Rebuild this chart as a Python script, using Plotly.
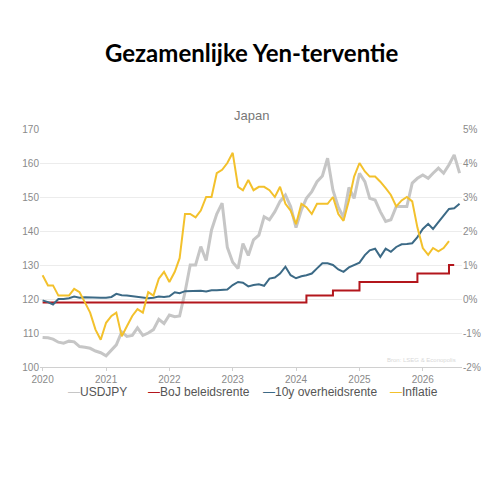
import pandas as pd
import plotly.graph_objects as go

# monthly, starting Jan 2020
months = pd.date_range("2020-01-01", periods=80, freq="MS")

usdjpy = [
    108.7, 108.6, 108.2, 107.3, 107.0, 107.6, 107.4, 106.0, 105.8, 105.5, 104.7, 104.2,
    103.3, 104.9, 106.5, 110.3, 109.0, 109.3, 111.5, 109.3, 110.0, 111.0, 114.0, 112.8,
    115.3, 114.8, 115.0, 122.0, 130.0, 130.0, 135.4, 131.3, 140.3, 145.0, 148.2, 135.2,
    130.8, 129.0, 136.3, 132.8, 137.4, 138.8, 144.2, 143.3, 145.7, 148.7, 150.6, 147.2,
    141.0, 146.2, 149.6, 151.6, 154.5, 156.2, 161.4, 152.0, 147.0, 144.0, 152.8, 149.6,
    157.0, 154.5, 149.6, 149.1, 145.7, 142.8, 143.3, 147.2, 147.2, 147.2, 154.1, 155.5,
    156.5, 155.5, 157.0, 158.5, 157.0, 159.5, 162.4, 157.0,
]

boj_rate = [-0.1] * 50 + [0.1] * 5 + [0.25] * 5 + [0.5] * 11 + [0.75] * 6 + [1.0] * 2

jgb_10y = [
    -0.04, -0.09, -0.16, 0.0, 0.0, 0.02, 0.07, 0.04, 0.05, 0.04, 0.05, 0.04,
    0.04, 0.06, 0.15, 0.11, 0.10, 0.08, 0.05, 0.02, 0.02, 0.04, 0.07, 0.06,
    0.08, 0.20, 0.17, 0.23, 0.24, 0.24, 0.24, 0.22, 0.26, 0.26, 0.27, 0.28,
    0.41, 0.50, 0.48, 0.37, 0.41, 0.43, 0.39, 0.60, 0.63, 0.75, 0.95, 0.70,
    0.61, 0.67, 0.70, 0.75, 0.90, 1.05, 1.05, 1.00, 0.87, 0.80, 0.93, 1.00,
    1.07, 1.29, 1.43, 1.48, 1.24, 1.48, 1.39, 1.53, 1.61, 1.62, 1.64, 1.82,
    2.06, 2.21, 2.06, 2.26, 2.46, 2.65, 2.67, 2.80,
]

inflatie = [
    0.7, 0.4, 0.4, 0.1, 0.1, 0.1, 0.3, 0.2, -0.1, -0.4, -0.9, -1.2,
    -0.7, -0.5, -0.4, -1.1, -0.8, -0.5, -0.3, -0.4, 0.2, 0.1, 0.6, 0.8,
    0.5, 0.8, 1.2, 2.5, 2.5, 2.4, 2.6, 3.0, 3.0, 3.7, 3.8, 4.0,
    4.3, 3.3, 3.2, 3.5, 3.2, 3.3, 3.3, 3.2, 3.0, 3.3, 2.8, 2.6,
    2.2, 2.8, 2.7, 2.5, 2.8, 2.8, 2.8, 3.0, 2.5, 2.3, 2.9, 3.6,
    4.0, 3.75, 3.6, 3.6, 3.45, 3.26, 3.06, 2.72, 2.9, 3.0, 2.87, 2.1,
    1.5, 1.3, 1.5, 1.4, 1.5, 1.7,
]

left_ticks = [100, 110, 120, 130, 140, 150, 160, 170]
right_ticks = [-2, -1, 0, 1, 2, 3, 4, 5]
year_ticks = ["2020", "2021", "2022", "2023", "2024", "2025", "2026"]

series_names = ["USDJPY", "BoJ beleidsrente", "10y overheidsrente", "Inflatie"]
series_colors = ["#c6c6c6", "#b3161c", "#3c6a86", "#f3c12c"]
legend_x = [0.062, 0.25, 0.524, 0.825]

title_font = "Lato, Noto Sans, sans-serif"
base_font = "Liberation Sans, Arial, sans-serif"
tick_font = dict(family=base_font, size=10, color="#8a8a8a")

fig = go.Figure()
fig.add_trace(go.Scatter(x=months[:len(usdjpy)], y=usdjpy, name=series_names[0], mode="lines",
                         line=dict(color=series_colors[0], width=3)))
fig.add_trace(go.Scatter(x=months[:len(boj_rate)], y=boj_rate, name=series_names[1], mode="lines",
                         line=dict(color=series_colors[1], width=2, shape="hv"), yaxis="y2"))
fig.add_trace(go.Scatter(x=months[:len(jgb_10y)], y=jgb_10y, name=series_names[2], mode="lines",
                         line=dict(color=series_colors[2], width=2), yaxis="y2"))
fig.add_trace(go.Scatter(x=months[:len(inflatie)], y=inflatie, name=series_names[3], mode="lines",
                         line=dict(color=series_colors[3], width=2), yaxis="y2"))

annotations = [
    dict(text="<b>Gezamenlijke Yen-terventie</b>", x=0.5, xref="paper", y=1.0, yref="paper",
         yanchor="bottom", yshift=60, showarrow=False,
         font=dict(family=title_font, size=24, color="#000000")),
    dict(text="Japan", x=0.5, xref="paper", y=1.0, yref="paper", yanchor="bottom", yshift=4,
         showarrow=False, font=dict(family=base_font, size=13, color="#777777")),
    dict(text="Bron: LSEG & Econopolis", x=0.99, xref="paper", xanchor="right", y=0.0, yref="paper",
         yanchor="bottom", yshift=2, showarrow=False,
         font=dict(family=base_font, size=6, color="#d8d8d8")),
]
# legend drawn as text with short coloured dashes, like the original
for name, color, lx in zip(series_names, series_colors, legend_x):
    annotations.append(dict(
        text=f'<span style="color:{color}">\u2014</span>{name}',
        x=lx, xref="paper", xanchor="left", y=0.0, yref="paper", yanchor="middle", yshift=-25,
        showarrow=False, font=dict(family=base_font, size=12, color="#555555"),
    ))

fig.update_layout(
    width=492, height=492,
    margin=dict(l=32, r=38, t=121, b=133),
    paper_bgcolor="white", plot_bgcolor="white",
    showlegend=False,
    xaxis=dict(
        type="date",
        range=["2019-12-17", "2026-08-15"],
        tickvals=[y + "-01-01" for y in year_ticks], ticktext=year_ticks,
        showgrid=False, showline=True, linecolor="#d0d0d0", linewidth=1,
        ticks="outside", ticklen=3, tickcolor="#d0d0d0",
        tickfont=tick_font,
    ),
    yaxis=dict(
        range=[100, 170], tickvals=left_ticks,
        showgrid=True, gridcolor="#ececec", gridwidth=1, zeroline=False,
        tickfont=tick_font,
    ),
    yaxis2=dict(
        range=[-2, 5], tickvals=right_ticks, ticktext=[f"{t}%" for t in right_ticks],
        overlaying="y", side="right", showgrid=False, zeroline=False,
        tickfont=tick_font,
    ),
    annotations=annotations,
)

fig.write_html("out.html")
